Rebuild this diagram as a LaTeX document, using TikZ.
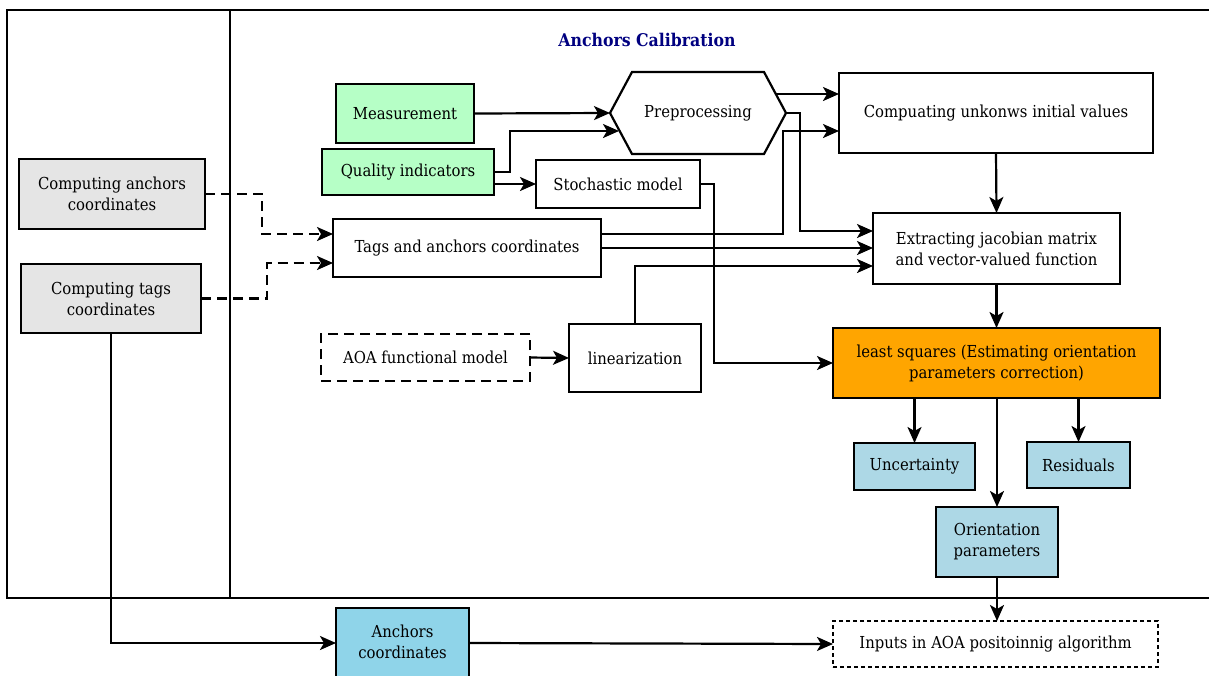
\documentclass[tikz,border=0pt]{standalone}
\usepackage{fontspec}
\setmainfont{DejaVu Serif Condensed}
\usetikzlibrary{arrows.meta,calc}
\definecolor{lgreen}{RGB}{182,255,198}
\definecolor{lgrey}{RGB}{229,229,229}
\definecolor{lblue}{RGB}{173,216,230}
\definecolor{sblue}{RGB}{143,212,233}
\definecolor{lsorange}{RGB}{255,165,0}
\definecolor{titleblue}{RGB}{0,0,128}
\tikzset{
  txt/.style={font=\fontsize{16.5}{21}\selectfont},
  box/.style={draw=black, line width=2.2pt, inner sep=0pt, outer sep=0pt, align=center, txt, text=black},
  arr/.style={line width=2.2pt, -{Stealth[length=16pt,width=14pt,inset=4pt]}},
  darr/.style={arr, dash pattern=on 10pt off 6pt},
  frame/.style={line width=2.2pt}
}
\begin{document}
\begin{tikzpicture}[x=1pt,y=-1pt]
\useasboundingbox (0,0) rectangle (1209,675);
\begin{scope}
\clip (0,0) rectangle (1209,675);
% frame
\draw[frame] (1220,10) -- (7,10) -- (7,598) -- (1220,598);
\draw[frame] (230,10) -- (230,598);
\node[font=\bfseries\fontsize{17.5}{20}\selectfont, text=titleblue] (title) at (647,40) {Anchors Calibration};

% nodes
\node[box, fill=lgreen, minimum width=138pt, minimum height=59pt] (meas) at (405,113.5) {Measurement};
\node[box, fill=lgreen, minimum width=172pt, minimum height=46pt] (qual) at (408,172) {Quality indicators};
\node[inner sep=0pt, outer sep=0pt, minimum width=176pt, minimum height=82pt, txt] (prep) at (698,113) {Preprocessing};
\draw[line width=2.2pt] (prep.west) -- ([xshift=22pt]prep.north west) -- ([xshift=-22pt]prep.north east) -- (prep.east) -- ([xshift=-22pt]prep.south east) -- ([xshift=22pt]prep.south west) -- cycle;
\node[box, minimum width=314pt, minimum height=80pt] (comp) at (996,113) {Compuating unkonws initial values};
\node[box, minimum width=164pt, minimum height=48pt] (stoch) at (618,184) {Stochastic model};
\node[box, minimum width=268pt, minimum height=58pt] (tags) at (467,248) {Tags and anchors coordinates};
\node[box, minimum width=247pt, minimum height=71pt] (jac) at (996.5,248.5) {Extracting jacobian matrix\\and vector-valued function};
\node[box, dash pattern=on 10pt off 6pt, minimum width=209pt, minimum height=47pt] (aoa) at (425.5,357.5) {AOA functional model};
\node[box, minimum width=132pt, minimum height=68pt] (lin) at (635,358) {linearization};
\node[box, fill=lsorange, minimum width=327pt, minimum height=70pt] (ls) at (996.5,363) {least squares (Estimating orientation\\parameters correction)};
\node[box, fill=lblue, minimum width=121pt, minimum height=47pt] (unc) at (914.5,466.5) {Uncertainty};
\node[box, fill=lblue, minimum width=103pt, minimum height=46pt] (res) at (1078.5,465) {Residuals};
\node[box, fill=lblue, minimum width=122pt, minimum height=70pt] (ori) at (997,542) {Orientation\\parameters};
\node[box, fill=lgrey, minimum width=186pt, minimum height=70pt] (cac) at (112,194) {Computing anchors\\coordinates};
\node[box, fill=lgrey, minimum width=180pt, minimum height=69pt] (ctc) at (111,298.5) {Computing tags\\coordinates};
\node[box, fill=sblue, minimum width=133pt, minimum height=74pt] (ac) at (402.5,645) {};
\node[align=center, txt] (actext) at (402.5,642) {Anchors\\coordinates};
\node[box, dash pattern=on 4pt off 3pt, minimum width=325pt, minimum height=46pt] (inp) at (995.5,644) {Inputs in AOA positoinnig algorithm};

% connectors
\draw[arr] (meas.east) -- (prep.west);
\draw[arr] (qual.east) -- ++(16,0) |- ([xshift=9pt,yshift=-18pt]prep.west);
\draw[arr] ([yshift=-12pt]qual.east) -- (stoch.west |- {0,184});
\draw[arr] ([xshift=-10pt,yshift=19pt]prep.east) -- ([yshift=19pt]comp.west);
\draw[arr] (prep.east) -- ++(14,0) |- ([yshift=17.5pt]jac.west);
\draw[arr] ([yshift=14pt]tags.east) -| (783,131) -- ([yshift=-18pt]comp.west);
\draw[arr] (tags.east) -- (jac.west |- tags.east);
\draw[arr] (lin.north) |- ([yshift=-17.5pt]jac.west);
\draw[arr] (stoch.east) -- ++(14,0) |- (ls.west);
\draw[arr] (comp.south) -- (jac.north);
\draw[arr] (jac.south) -- (ls.north);
\draw[arr] (aoa.east) -- (lin.west);
\draw[arr] (ls.south -| unc.north) -- (unc.north);
\draw[arr] (ls.south -| res.north) -- (res.north);
\draw[arr] (ls.south -| ori.north) -- (ori.north);
\draw[arr] (ori.south) -- (ori.south |- inp.north);
\draw[darr] (cac.east) -- ++(57,0) |- ([yshift=14pt]tags.west);
\draw[darr] (ctc.east) -- ++(66,0) |- ([yshift=-15pt]tags.west);
\draw[arr] (ctc.south) |- (ac.west |- {0,643});
\draw[arr] (ac.east |- {0,643}) -- (inp.west);
\end{scope}
\end{tikzpicture}
\end{document}
